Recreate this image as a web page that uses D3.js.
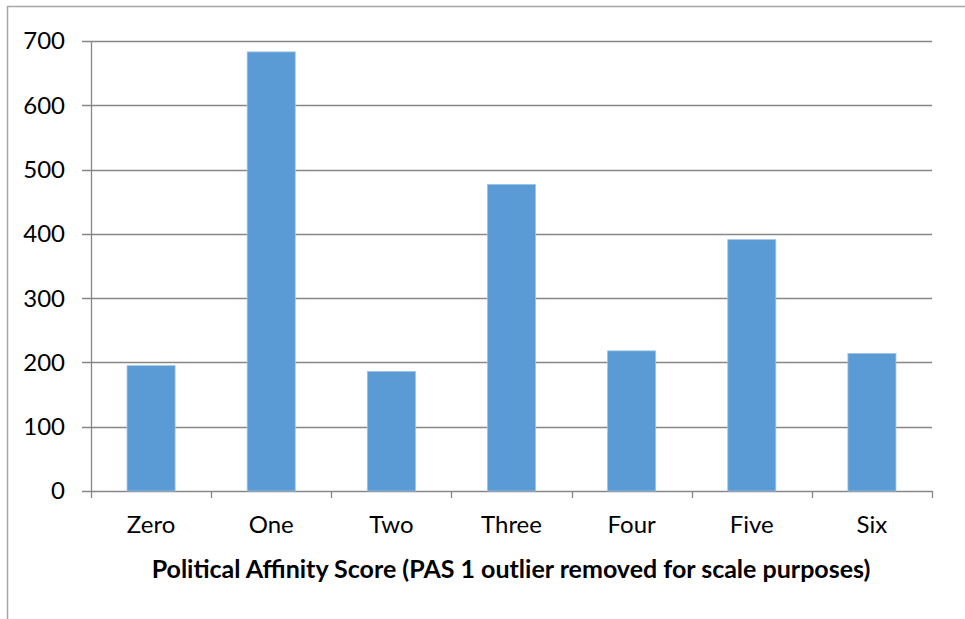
<!DOCTYPE html>
<html lang="en">
<head>
<meta charset="utf-8">
<script src="https://d3js.org/d3.v7.min.js"></script>
<style>
  body { margin: 0; background: #fff; }
  text { font-family: Lato, "Open Sans", sans-serif; fill: #000; }
</style>
</head>
<body>
<div id="chart"></div>
<script>
// data
var categories = ["Zero", "One", "Two", "Three", "Four", "Five", "Six"];
var counts = [195, 683, 186, 477, 218, 391, 214];
var yTicks = [0, 100, 200, 300, 400, 500, 600, 700];
var xTitle = "Political Affinity Score (PAS 1 outlier removed for scale purposes)";

var width = 965, height = 619;
var margin = {left: 91, right: 33, top: 41, bottom: 128};

var svg = d3.select("#chart").append("svg")
    .attr("width", width)
    .attr("height", height);

// outer chart frame (left + top only visible)
svg.append("path")
    .attr("d", "M7.5," + height + "V6.5H" + width)
    .attr("fill", "none")
    .attr("stroke", "#a6a6a6")
    .attr("stroke-width", 1.5);

var x = d3.scaleBand()
    .domain(categories)
    .range([margin.left, width - margin.right])
    .padding(0);

var y = d3.scaleLinear()
    .domain([0, 700])
    .range([height - margin.bottom, margin.top]);

// gridlines
svg.append("g")
    .selectAll("line")
    .data(yTicks)
    .enter().append("line")
    .attr("x1", margin.left - 9)
    .attr("x2", width - margin.right)
    .attr("y1", function(d) { return Math.round(y(d)) + 0.5; })
    .attr("y2", function(d) { return Math.round(y(d)) + 0.5; })
    .attr("stroke", "#878787")
    .attr("stroke-width", 1.3);

// y axis line
svg.append("line")
    .attr("x1", margin.left + 0.5).attr("x2", margin.left + 0.5)
    .attr("y1", y(700)).attr("y2", y(0))
    .attr("stroke", "#878787")
    .attr("stroke-width", 1.3);

// y labels
svg.append("g")
    .selectAll("text")
    .data(yTicks)
    .enter().append("text")
    .attr("x", 65)
    .attr("y", function(d) { return y(d); })
    .attr("dy", "0.35em")
    .attr("text-anchor", "end")
    .style("font-size", "24px")
    .text(function(d) { return d; });

// x tick marks at category boundaries
var bounds = categories.map(function(c) { return x(c); }).concat([x.range()[1]]);
svg.append("g")
    .selectAll("line")
    .data(bounds)
    .enter().append("line")
    .attr("x1", function(d) { return Math.round(d) + 0.5; })
    .attr("x2", function(d) { return Math.round(d) + 0.5; })
    .attr("y1", y(0))
    .attr("y2", y(0) + 7)
    .attr("stroke", "#878787")
    .attr("stroke-width", 1.3);

// bars
var barW = x.bandwidth() * 0.4;
svg.append("g")
    .selectAll("rect")
    .data(categories)
    .enter().append("rect")
    .attr("x", function(d) { return x(d) + (x.bandwidth() - barW) / 2; })
    .attr("width", barW)
    .attr("y", function(d, i) { return y(counts[i]); })
    .attr("height", function(d, i) { return y(0) - y(counts[i]); })
    .attr("fill", "#5b9bd5")
    .attr("stroke", "#9dc3e6")
    .attr("stroke-width", 0.8);

// x labels
svg.append("g")
    .selectAll("text")
    .data(categories)
    .enter().append("text")
    .attr("x", function(d) { return x(d) + x.bandwidth() / 2; })
    .attr("y", 525)
    .attr("dy", "0.35em")
    .attr("text-anchor", "middle")
    .style("font-size", "24px")
    .text(function(d) { return d; });

// axis title
svg.append("text")
    .attr("x", 511)
    .attr("y", 569)
    .attr("dy", "0.35em")
    .attr("text-anchor", "middle")
    .style("font-size", "25px")
    .style("font-weight", "bold")
    .text(xTitle);
</script>
</body>
</html>
